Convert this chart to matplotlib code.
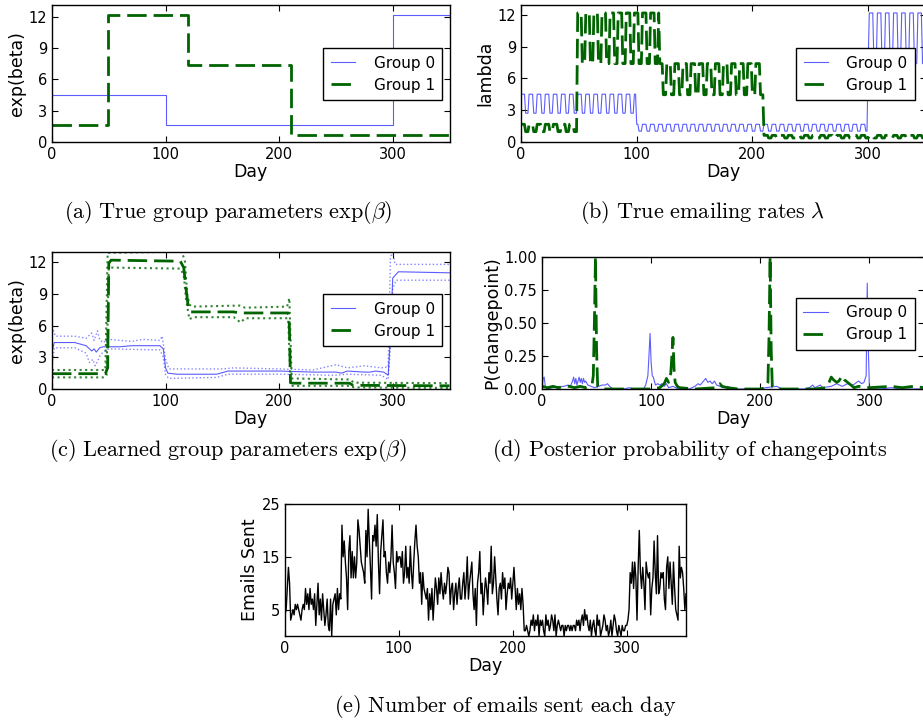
import matplotlib
matplotlib.use('Agg')
import matplotlib.pyplot as plt
import numpy as np

plt.rcParams.update({
    'font.family': 'DejaVu Sans',
    'mathtext.fontset': 'cm',
    'xtick.direction': 'in',
    'ytick.direction': 'in',
    'xtick.top': True,
    'ytick.right': True,
    'xtick.major.size': 4,
    'ytick.major.size': 4,
    'xtick.labelsize': 10.5,
    'ytick.labelsize': 10.5,
    'axes.labelsize': 12.5,
    'axes.linewidth': 1.0,
    'legend.fontsize': 11,
})

# ---- (a) true group parameters exp(beta): piecewise constant
G0_CHANGE_DAYS = [0, 100, 300, 350]
G0_LEVELS = [4.5, 1.65, 12.2]
G1_CHANGE_DAYS = [0, 49, 120, 210, 350]
G1_LEVELS = [1.65, 12.2, 7.4, 0.6]

# ---- (b) true emailing rates: weekly on/off pattern, low level per segment
WEEK_PATTERN = [1, 1, 1, 1, 0, 0, 0]
G0_LOW_LEVELS = [2.7, 1.0, 7.4]
G1_LOW_LEVELS = [0.95, 7.4, 4.45, 0.35]

# ---- (c) learned exp(beta): mean and dotted bounds, as (day, value) knots
G0_MEAN_DAYS = [0, 2, 20, 30, 35, 37, 39, 42, 45, 60, 70, 95, 98, 100, 102, 110, 145, 155, 200, 230,
                250, 255, 260, 275, 280, 285, 292, 296, 298, 300, 305, 350]
G0_MEAN = [3.5, 4.4, 4.4, 4.1, 3.6, 3.8, 3.5, 3.9, 4.0, 4.0, 4.1, 4.1, 3.8, 2.0, 1.5, 1.4, 1.4, 1.7, 1.7, 1.6,
           1.6, 1.5, 1.7, 1.6, 1.6, 1.7, 1.6, 1.3, 5.0, 10.5, 11.1, 11.0]
G0_UPPER_DAYS = [0, 3, 20, 30, 35, 37, 40, 42, 45, 50, 70, 80, 95, 97, 100, 103, 150, 160, 200, 230,
                 250, 260, 275, 290, 296, 298, 300, 302, 350]
G0_UPPER = [5.9, 5.0, 5.0, 4.8, 5.3, 4.6, 5.5, 4.7, 4.4, 4.7, 4.5, 4.7, 4.6, 5.0, 2.8, 1.9, 1.9, 2.0, 1.9, 1.8,
            2.3, 2.0, 2.2, 2.0, 2.1, 12.5, 13.0, 11.8, 11.8]
G0_LOWER_DAYS = [0, 2, 20, 30, 33, 36, 38, 40, 42, 45, 50, 95, 98, 100, 103, 145, 155, 200, 250, 260,
                 290, 296, 298, 300, 303, 350]
G0_LOWER = [2.0, 3.9, 3.9, 3.4, 2.5, 2.8, 2.2, 2.6, 3.1, 3.5, 3.8, 3.7, 3.0, 1.3, 1.0, 1.1, 1.4, 1.4, 1.3, 1.4,
            1.3, 0.9, 4.0, 9.5, 10.3, 10.3]
G1_MEAN_DAYS = [0, 47, 49, 50, 52, 113, 116, 118, 120, 122, 160, 165, 208, 209, 210, 212, 262, 265, 350]
G1_MEAN = [1.45, 1.45, 2.0, 11.9, 12.2, 12.1, 11.5, 9.5, 7.8, 7.3, 7.3, 7.2, 7.2, 6.0, 0.6, 0.55, 0.55, 0.35, 0.3]
G1_UPPER_DAYS = [0, 47, 49, 114, 117, 119, 121, 123, 165, 170, 207, 209, 211, 262, 266, 350]
G1_UPPER = [1.8, 1.8, 12.9, 13.0, 12.2, 9.0, 8.0, 7.8, 7.9, 7.7, 7.8, 8.6, 1.0, 0.9, 0.6, 0.55]
G1_LOWER_DAYS = [0, 46, 48, 50, 113, 116, 118, 121, 124, 160, 166, 170, 208, 210, 213, 262, 266, 350]
G1_LOWER = [1.1, 1.1, 1.3, 11.5, 11.4, 10.8, 8.5, 6.6, 6.8, 6.8, 6.3, 6.7, 6.7, 0.3, 0.3, 0.3, 0.15, 0.1]

# ---- (d) posterior probability of changepoints, (day, prob) knots
G0_CP_DAYS = [0, 1, 2, 3, 5, 10, 20, 24, 26, 28, 29, 30, 31, 32, 34, 35, 36, 37, 38, 39, 40, 42, 45, 48,
              52, 55, 58, 60, 62, 65, 75, 80, 85, 93, 95, 97, 98, 99, 100, 101, 102, 104, 106, 108, 110,
              112, 114, 116, 120, 125, 135, 140, 143, 145, 148, 150, 152, 154, 156, 158, 160, 163, 166,
              170, 175, 200, 205, 215, 220, 240, 245, 248, 250, 255, 257, 265, 270, 275, 280, 285, 290,
              293, 295, 297, 298, 299, 300, 310, 320, 330, 350]
G0_CP = [0.0, 0.08, 0.09, 0.02, 0.0, 0.01, 0.02, 0.03, 0.02, 0.06, 0.09, 0.04, 0.08, 0.03, 0.09, 0.05,
         0.08, 0.04, 0.08, 0.05, 0.06, 0.03, 0.02, 0.01, 0.02, 0.03, 0.03, 0.04, 0.02, 0.0, 0.0, 0.01,
         0.0, 0.0, 0.03, 0.1, 0.25, 0.42, 0.2, 0.1, 0.09, 0.03, 0.04, 0.03, 0.04, 0.02, 0.04, 0.01, 0.02,
         0.0, 0.0, 0.02, 0.04, 0.03, 0.06, 0.08, 0.05, 0.06, 0.04, 0.06, 0.03, 0.02, 0.01, 0.02, 0.0,
         0.0, 0.01, 0.02, 0.0, 0.0, 0.01, 0.03, 0.01, 0.03, 0.01, 0.02, 0.04, 0.02, 0.04, 0.03, 0.06,
         0.04, 0.05, 0.1, 0.8, 0.3, 0.0, 0.0, 0.01, 0.0, 0.0]
G1_CP_DAYS = [0, 5, 10, 15, 20, 25, 30, 35, 40, 44, 46, 47, 48, 49, 50, 51, 55, 100, 108, 112, 114, 116,
              118, 119, 120, 121, 122, 124, 126, 140, 160, 163, 165, 170, 180, 200, 205, 207, 208, 209,
              210, 211, 215, 250, 260, 263, 265, 267, 270, 272, 275, 277, 280, 283, 286, 290, 300, 320,
              330, 340, 350]
G1_CP = [0.02, 0.01, 0.02, 0.01, 0.02, 0.02, 0.01, 0.02, 0.01, 0.03, 0.04, 0.1, 0.5, 1.0, 0.3, 0.02,
         0.0, 0.0, 0.01, 0.04, 0.08, 0.05, 0.12, 0.25, 0.39, 0.15, 0.05, 0.02, 0.01, 0.0, 0.01, 0.04,
         0.02, 0.01, 0.0, 0.0, 0.01, 0.05, 0.4, 1.0, 0.3, 0.02, 0.0, 0.0, 0.01, 0.05, 0.09, 0.07, 0.05,
         0.06, 0.1, 0.07, 0.05, 0.03, 0.01, 0.02, 0.01, 0.02, 0.01, 0.02, 0.01]

# ---- (e) number of emails sent each day (day 0 .. 352)
EMAILS_SENT = [
    4, 5, 9, 13, 10, 3, 4, 5, 4, 6, 5, 6, 5, 4, 3, 5, 6, 5, 9, 6,
    8, 5, 9, 6, 7, 5, 8, 2, 6, 10, 4, 7, 3, 8, 5, 2, 4, 7, 2, 1,
    7, 0, 6, 7, 8, 4, 9, 5, 8, 7,
    21, 15, 18, 14, 11, 5, 16, 19, 11, 16, 11, 15, 11, 14, 22, 20, 17, 14, 13, 12,
    10, 20, 15, 24, 18, 13, 7, 19, 18, 21, 17, 23, 14, 8, 16, 19, 22, 15, 16, 12,
    10, 14, 12, 15, 21, 14, 12, 9, 16, 14, 15, 15, 13, 16, 10, 12, 17, 11, 13, 10,
    17, 12, 9, 14, 18, 21, 17, 15, 10, 12,
    6, 12, 9, 8, 7, 9, 3, 8, 5, 9, 3, 7, 11, 9, 6, 11, 8, 12, 9, 7,
    10, 8, 10, 13, 12, 6, 9, 10, 5, 8, 10, 6, 9, 11, 7,
    7, 10, 12, 7, 10, 15, 7, 10, 12, 14, 8, 5, 9, 2, 10, 12, 16, 8, 10, 4,
    8, 11, 9, 6, 12, 10, 17, 8, 10, 15, 11, 7, 4, 9, 10, 7, 12, 9, 11, 5,
    8, 10, 9, 11, 7, 10, 13, 9, 5, 9, 6, 8, 5, 9, 6,
    1, 1, 2, 1, 0, 1, 3, 2, 4, 1, 3, 2, 4, 0, 3, 2, 3, 1, 0, 4,
    2, 3, 1, 2, 4, 3, 1, 4, 0, 2, 3, 2, 1, 2, 2, 0, 2, 1, 2, 2,
    1, 2, 1, 2, 2, 1, 3, 2, 3, 1, 3, 4, 2, 5, 3, 4, 2, 1, 3, 0,
    2, 3, 1, 0, 4, 2, 3, 0, 1, 2, 4, 3, 1, 2, 0, 1, 3, 0, 2, 4,
    3, 1, 0, 2, 1, 0, 2, 1, 1, 2,
    2, 3, 5, 12, 10, 14, 9, 14, 11, 3, 13, 20, 12, 9, 13, 10, 5, 14, 12, 11,
    12, 4, 9, 11, 18, 12, 8, 19, 8, 9, 12, 11, 12, 7, 5, 13,
    15, 9, 14, 10, 6, 14, 9, 5, 4, 3, 17, 11, 13, 12, 9, 5, 8,
]

BLUE = '#3333ff'
GREEN = '#006400'
W, H = 923, 720


def px_axes(fig, left, top, right, bottom):
    return fig.add_axes([left / W, 1 - bottom / H, (right - left) / W, (bottom - top) / H])


def daily_steps(change_days, levels):
    n = change_days[-1] + 1
    vals = np.empty(n)
    for i, lev in enumerate(levels):
        vals[change_days[i]:change_days[i + 1] + 1] = lev
    return vals


def daily_weekly(change_days, high, low):
    n = change_days[-1] + 1
    vals = np.empty(n)
    for i in range(len(high)):
        for d in range(change_days[i], min(change_days[i + 1] + 1, n)):
            vals[d] = high[i] if WEEK_PATTERN[d % 7] else low[i]
    return vals


def add_legend(ax, x, y):
    leg = ax.legend(loc='upper right', bbox_to_anchor=(x, y), borderaxespad=0,
                    fancybox=False, framealpha=1, handlelength=1.6, handletextpad=1.2,
                    borderpad=0.5, labelspacing=0.45)
    leg.get_frame().set_edgecolor('black')
    leg.get_frame().set_linewidth(1.0)


def green_kw():
    return dict(color=GREEN, lw=2.0, dashes=(7, 2.5), label='Group 1')


def blue_kw():
    return dict(color=BLUE, lw=0.8, alpha=0.8, label='Group 0')


fig = plt.figure(figsize=(W / 100, H / 100), dpi=100)

# (a)
ax = px_axes(fig, 52, 4.5, 449.5, 141.7)
days = np.arange(351)
ax.plot(days, daily_steps(G0_CHANGE_DAYS, G0_LEVELS), drawstyle='steps-post', **blue_kw())
ax.plot(days, daily_steps(G1_CHANGE_DAYS, G1_LEVELS), drawstyle='steps-post', **green_kw())
ax.set_xlim(0, 350)
ax.set_ylim(0, 13.2)
ax.set_xticks([0, 100, 200, 300])
ax.set_yticks([0, 3, 6, 9, 12])
ax.set_xlabel('Day', labelpad=1)
ax.set_ylabel('exp(beta)', labelpad=2)
add_legend(ax, 0.982, 0.682)

# (b)
ax = px_axes(fig, 521, 4.5, 926, 141.7)
ax.plot(days, daily_weekly(G0_CHANGE_DAYS, G0_LEVELS, G0_LOW_LEVELS), **blue_kw())
ax.plot(days, daily_weekly(G1_CHANGE_DAYS, G1_LEVELS, G1_LOW_LEVELS), **green_kw())
ax.set_xlim(0, 350)
ax.set_ylim(0, 13)
ax.set_xticks([0, 100, 200, 300])
ax.set_yticks([0, 3, 6, 9, 12])
ax.set_xlabel('Day', labelpad=1)
ax.set_ylabel('lambda', labelpad=2)
add_legend(ax, 0.973, 0.682)

# (c)
ax = px_axes(fig, 52, 251.7, 449.5, 389)
ax.plot(G0_MEAN_DAYS, G0_MEAN, **blue_kw())
ax.plot(G1_MEAN_DAYS, G1_MEAN, **green_kw())
ax.plot(G0_UPPER_DAYS, G0_UPPER, ':', color=BLUE, lw=1.0, alpha=0.6)
ax.plot(G0_LOWER_DAYS, G0_LOWER, ':', color=BLUE, lw=1.0, alpha=0.6)
ax.plot(G1_UPPER_DAYS, G1_UPPER, ':', color=GREEN, lw=1.5, alpha=0.8)
ax.plot(G1_LOWER_DAYS, G1_LOWER, ':', color=GREEN, lw=1.5, alpha=0.8)
ax.set_xlim(0, 350)
ax.set_ylim(0, 13)
ax.set_xticks([0, 100, 200, 300])
ax.set_yticks([0, 3, 6, 9, 12])
ax.set_xlabel('Day', labelpad=1)
ax.set_ylabel('exp(beta)', labelpad=2)
add_legend(ax, 0.982, 0.692)

# (d)
ax = px_axes(fig, 542, 256.7, 924, 389)
ax.plot(G0_CP_DAYS, G0_CP, **blue_kw())
ax.plot(G1_CP_DAYS, G1_CP, **green_kw())
ax.set_xlim(0, 350)
ax.set_ylim(0, 1)
ax.set_xticks([0, 100, 200, 300])
ax.set_yticks([0, 0.25, 0.5, 0.75, 1.0])
ax.set_yticklabels(['0.00', '0.25', '0.50', '0.75', '1.00'])
ax.set_xlabel('Day', labelpad=1)
ax.set_ylabel('P(changepoint)', labelpad=2)
add_legend(ax, 0.976, 0.69)

# (e)
ax = px_axes(fig, 285, 504, 686, 636)
ax.plot(np.arange(len(EMAILS_SENT)), EMAILS_SENT, color='black', lw=1.0)
ax.set_xlim(0, 352)
ax.set_ylim(0, 25)
ax.set_xticks([0, 100, 200, 300])
ax.set_yticks([5, 15, 25])
ax.set_xlabel('Day', labelpad=1)
ax.set_ylabel('Emails Sent', labelpad=2)

captions = [
    (228, 212, r'$\mathrm{(a)\ True\ group\ parameters\ }\exp(\beta)$'),
    (703, 212, r'$\mathrm{(b)\ True\ emailing\ rates\ }\lambda$'),
    (228, 451, r'$\mathrm{(c)\ Learned\ group\ parameters\ }\exp(\beta)$'),
    (690, 451, r'$\mathrm{(d)\ Posterior\ probability\ of\ changepoints}$'),
    (505, 707, r'$\mathrm{(e)\ Number\ of\ emails\ sent\ each\ day}$'),
]
for cx, cy, txt in captions:
    fig.text(cx / W, 1 - cy / H, txt, ha='center', va='center', fontsize=16)

fig.savefig('out.png', dpi=100)
